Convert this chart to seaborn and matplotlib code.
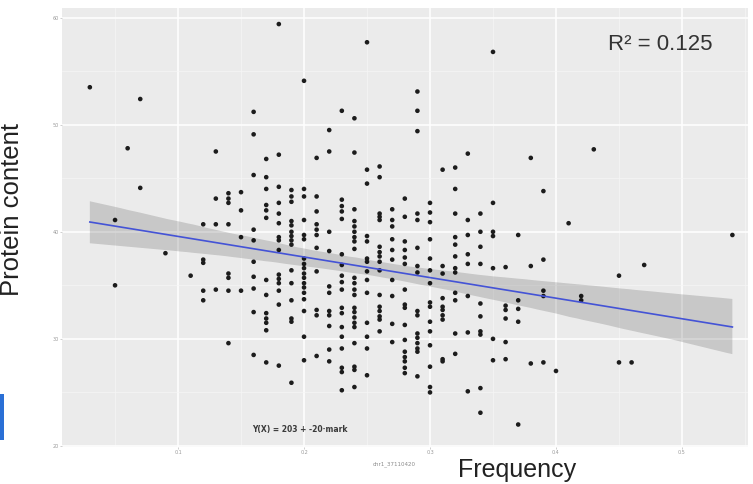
import numpy as np
import pandas as pd
import matplotlib
matplotlib.use("Agg")
import matplotlib.pyplot as plt
import seaborn as sns
from matplotlib.ticker import MultipleLocator, FixedLocator
from matplotlib.patches import Rectangle

# ---------------- data ----------------
freq_levels = [0.03, 0.05, 0.06, 0.07, 0.09, 0.11, 0.12, 0.13, 0.14, 0.15,
               0.16, 0.17, 0.18, 0.19, 0.20, 0.21, 0.22, 0.23, 0.24, 0.25,
               0.26, 0.27, 0.28, 0.29, 0.30, 0.31, 0.32, 0.33, 0.34, 0.35,
               0.36, 0.37, 0.38, 0.39, 0.40, 0.41, 0.42, 0.43, 0.45, 0.46,
               0.47, 0.54]

protein_by_level = [
    [53.5],
    [41.1, 35.0],
    [47.8],
    [52.4, 44.1],
    [38.0],
    [35.9],
    [40.7, 37.4, 37.1, 34.5, 33.6],
    [47.5, 43.1, 40.7, 34.6],
    [43.6, 43.1, 42.7, 40.7, 36.1, 35.7, 34.5, 29.6],
    [43.7, 42.0, 39.5, 34.5],
    [51.2, 49.1, 45.3, 40.2, 39.2, 37.2, 35.8, 34.7, 32.5, 28.5],
    [46.8, 45.1, 44.0, 42.5, 42.0, 41.3, 35.5, 34.1, 32.4, 31.9, 31.5, 30.8, 27.8],
    [59.4, 47.2, 44.2, 42.7, 41.7, 40.8, 39.5, 39.2, 38.3, 36.0, 35.6, 35.2, 34.5, 33.2, 27.5],
    [43.9, 43.3, 42.8, 41.0, 40.6, 40.0, 39.6, 39.2, 38.8, 36.4, 35.2, 33.6, 31.9, 31.6, 25.9],
    [54.1, 44.0, 43.3, 41.1, 39.7, 39.3, 37.5, 37.0, 36.6, 36.1, 35.7, 35.2, 34.8, 34.3, 33.7, 32.6, 30.2, 28.0],
    [46.9, 43.3, 41.9, 40.7, 40.2, 39.7, 38.5, 36.3, 32.7, 32.2, 28.4],
    [49.5, 47.5, 40.0, 38.2, 34.9, 34.3, 32.6, 32.2, 31.2, 29.0, 27.9],
    [51.3, 43.0, 42.4, 41.9, 41.2, 37.9, 36.9, 35.9, 35.3, 34.6, 32.9, 32.4, 31.1, 30.2, 29.1, 27.3, 26.9, 25.2],
    [50.6, 47.4, 42.1, 41.0, 40.5, 40.0, 39.5, 39.1, 38.4, 35.7, 35.2, 34.6, 34.1, 32.9, 32.5, 32.0, 31.5, 31.1, 29.6, 27.4, 27.1, 25.5],
    [57.7, 45.8, 44.5, 39.6, 39.1, 37.5, 37.2, 36.3, 35.5, 34.3, 31.5, 30.2, 29.1, 26.6],
    [46.1, 45.1, 41.7, 41.4, 41.1, 38.6, 38.1, 37.7, 37.2, 36.4, 34.1, 33.0, 32.6, 32.1, 31.8, 30.7],
    [42.1, 41.1, 40.5, 39.3, 38.3, 37.4, 35.5, 34.0, 31.4, 29.7],
    [43.1, 41.4, 39.1, 38.3, 37.6, 37.0, 34.6, 33.2, 32.9, 31.3, 29.9, 28.8, 28.3, 27.9, 27.3, 26.8],
    [53.1, 51.3, 49.4, 41.7, 41.1, 38.5, 36.8, 36.2, 32.6, 32.2, 30.5, 30.1, 29.6, 29.1, 28.8, 26.5],
    [42.7, 41.8, 40.9, 39.3, 37.5, 36.4, 35.2, 33.4, 33.0, 31.6, 30.7, 29.4, 27.4, 25.5, 25.0],
    [45.8, 36.8, 36.1, 33.8, 33.0, 32.7, 32.2, 31.8, 28.1, 27.9],
    [46.0, 44.0, 41.7, 39.5, 38.8, 37.7, 36.6, 36.2, 34.3, 33.6, 30.5, 28.6],
    [47.3, 41.1, 39.7, 37.9, 37.0, 34.0, 30.6, 25.1],
    [41.7, 40.0, 38.6, 37.0, 33.3, 32.1, 30.7, 30.4, 25.4, 23.1],
    [56.8, 42.7, 40.0, 39.6, 36.6, 30.0, 28.0],
    [36.7, 33.1, 32.7, 31.9, 29.7, 28.1],
    [39.7, 33.6, 32.8, 31.6, 22.0],
    [46.9, 36.8, 27.7],
    [43.8, 37.4, 34.5, 34.0, 27.8],
    [27.0],
    [40.8],
    [34.0, 33.6],
    [47.7],
    [35.9, 27.8],
    [27.8],
    [36.9],
    [39.7],
]

x_ticks = [0.1, 0.2, 0.3, 0.4, 0.5]
x_tick_labels = ["0.1", "0.2", "0.3", "0.4", "0.5"]
y_ticks = [20, 30, 40, 50, 60]
y_tick_labels = ["20", "30", "40", "50", "60"]
x_label = "Frequency"
x_label_prefix = "chr1_37110420"
y_label = "Protein content"
r2_label = "R\u00b2 = 0.125"
formula_label = "Y(X) = 203 + -20\u00b7mark"

# ---------------- build table ----------------
freq = [lv for lv, vals in zip(freq_levels, protein_by_level) for _ in vals]
protein = [v for vals in protein_by_level for v in vals]
df = pd.DataFrame({"Frequency": freq, "Protein": protein})

# ---------------- figure ----------------
W, H = 753, 484
fig = plt.figure(figsize=(W / 100, H / 100), dpi=100)
fig.patch.set_facecolor("white")
ax = fig.add_axes([62 / W, 37 / H, 686 / W, 439 / H])
ax.set_facecolor("#EBEBEB")
for s in ax.spines.values():
    s.set_visible(False)

ax.set_xlim(0.0079, 0.5524)
ax.set_ylim(19.9, 60.9)

ax.xaxis.set_major_locator(FixedLocator(x_ticks))
ax.yaxis.set_major_locator(FixedLocator(y_ticks))
ax.xaxis.set_minor_locator(MultipleLocator(0.05))
ax.yaxis.set_minor_locator(MultipleLocator(5))
ax.set_xticklabels(x_tick_labels, fontsize=3.5, color="#9a9a9a")
ax.set_yticklabels(y_tick_labels, fontsize=3.5, color="#9a9a9a")
ax.tick_params(which="major", length=1.5, width=0.6, color="#c8c8c8", pad=1.0)
ax.tick_params(which="minor", length=0)
ax.grid(which="major", color="white", lw=1.1, zorder=0)
ax.grid(which="minor", color="#F6F6F6", lw=0.5, zorder=0)
ax.set_axisbelow(True)

# points
sns.scatterplot(data=df, x="Frequency", y="Protein", ax=ax, s=11,
                color="#1c1c1c", edgecolor="none", zorder=3, legend=False)

# confidence band (grey)
sns.regplot(data=df, x="Frequency", y="Protein", ax=ax, scatter=False,
            ci=95, seed=1, color="black", line_kws={"lw": 0, "zorder": 4})
# fitted line (blue)
sns.regplot(data=df, x="Frequency", y="Protein", ax=ax, scatter=False,
            ci=None, color="#4453D6", line_kws={"lw": 1.2, "zorder": 5})

for coll in ax.collections[1:]:
    coll.set_zorder(4)

ax.set_xlabel("")
ax.set_ylabel(y_label, fontsize=18.5, family="Liberation Sans", color="#222222")
ax.yaxis.set_label_coords(-0.056, 0.54)

ax.text(0.663, -0.052, x_label, transform=ax.transAxes, ha="center", va="center",
        fontsize=18.0, family="Liberation Sans", color="#222222")
ax.text(0.485, -0.038, x_label_prefix, transform=ax.transAxes, ha="center", va="center",
        fontsize=4, color="#8a8a8a")

ax.text(0.872, 0.916, r2_label, transform=ax.transAxes, ha="center", va="center",
        fontsize=16, family="Liberation Sans", color="#333333")
ax.text(0.347, 0.04, formula_label, transform=ax.transAxes, ha="center", va="center",
        fontsize=5.5, fontweight="bold", color="#3a3a3a")

# blue sliver at left edge (slide artefact)
fig.patches.append(Rectangle((0, 44 / H), 4 / W, 46 / H, transform=fig.transFigure,
                             facecolor="#2a6fd6", edgecolor="none"))

fig.savefig("out.png", dpi=100)
